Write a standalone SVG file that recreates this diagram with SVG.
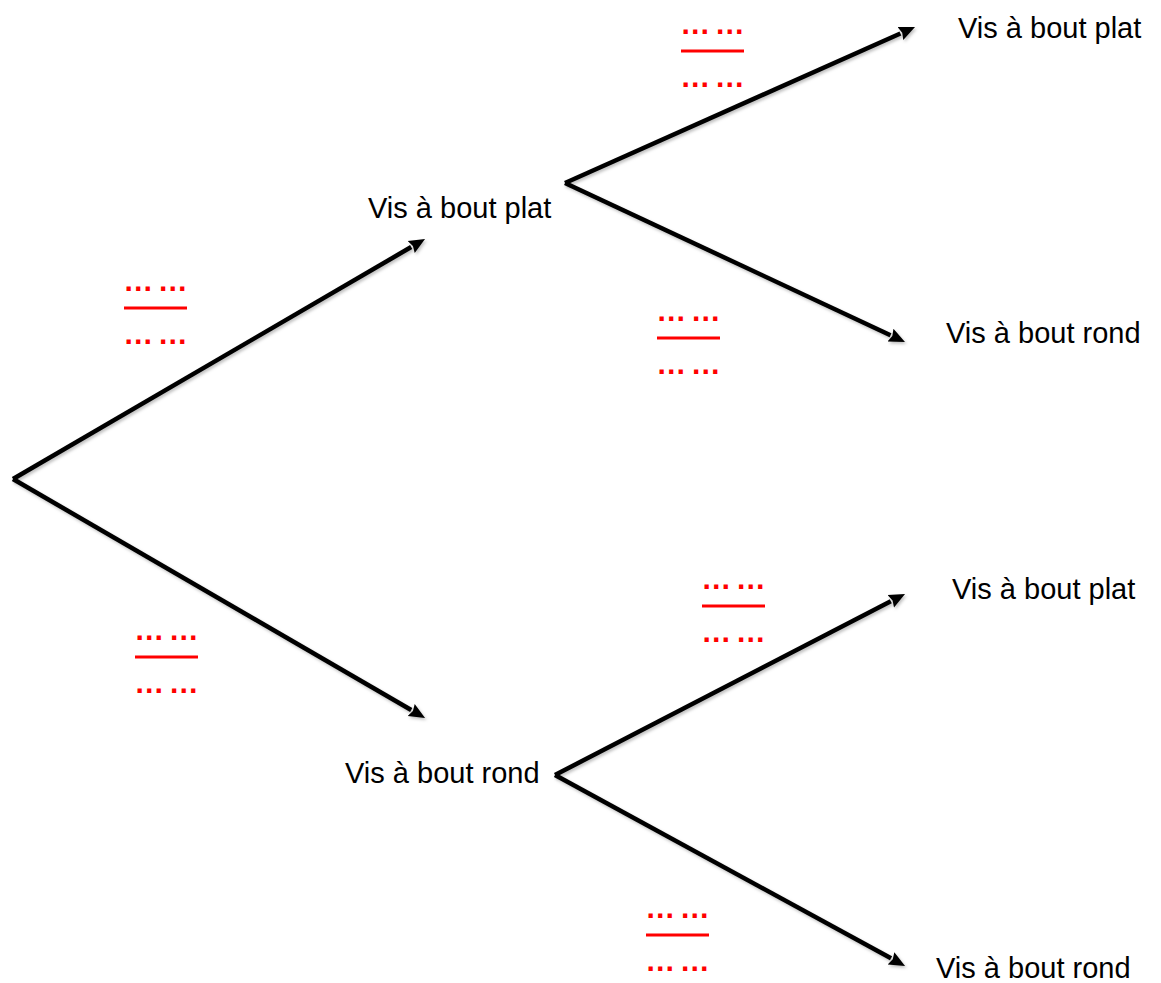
<svg xmlns="http://www.w3.org/2000/svg" width="1161" height="983" viewBox="0 0 1161 983">
<style>
.lbl{font-family:"Liberation Sans",Arial,Helvetica,sans-serif;font-size:29px;fill:#000}
.dots{font-family:"Liberation Sans",Arial,Helvetica,sans-serif;font-size:30px;font-weight:bold;fill:#ff0000;text-anchor:middle;word-spacing:-4px}
.bar{stroke:#ff0000;stroke-width:3}
.edge{stroke:#000;stroke-width:4.5;fill:none;marker-end:url(#arr);filter:url(#sh)}
</style>
<defs>
<marker id="arr" markerUnits="userSpaceOnUse" markerWidth="18" markerHeight="16" viewBox="0 -8 18 16" refX="0" refY="0" orient="auto">
<path d="M0,-7 L16,0 L0,7 L2,0 z" fill="#000"/>
</marker>
<filter id="sh" x="-10%" y="-10%" width="120%" height="120%">
<feDropShadow dx="1.5" dy="2" stdDeviation="1.5" flood-color="#000" flood-opacity="0.25"/>
</filter>
</defs>
<rect width="1161" height="983" fill="#fff"/>
<g id="connectors">
<line class="edge" x1="13" y1="479" x2="411.2" y2="247"/>
<line class="edge" x1="13" y1="479" x2="411.2" y2="710"/>
<line class="edge" x1="565" y1="183" x2="900.4" y2="33.5"/>
<line class="edge" x1="565" y1="183" x2="890.5" y2="335.2"/>
<line class="edge" x1="555" y1="775" x2="890.8" y2="601.3"/>
<line class="edge" x1="555" y1="775" x2="891" y2="958.3"/>
</g>
<g id="probabilities">
<g id="p1"><text class="dots" x="155.5" y="291">… …</text><line class="bar" x1="124" y1="308" x2="187" y2="308"/><text class="dots" x="155.5" y="344">… …</text></g>
<g id="p2"><text class="dots" x="166.5" y="640">… …</text><line class="bar" x1="135" y1="657" x2="198" y2="657"/><text class="dots" x="166.5" y="693">… …</text></g>
<g id="p3"><text class="dots" x="712.5" y="34">… …</text><line class="bar" x1="681" y1="51" x2="744" y2="51"/><text class="dots" x="712.5" y="87">… …</text></g>
<g id="p4"><text class="dots" x="688.5" y="321">… …</text><line class="bar" x1="657" y1="338" x2="720" y2="338"/><text class="dots" x="688.5" y="374">… …</text></g>
<g id="p5"><text class="dots" x="733.5" y="589">… …</text><line class="bar" x1="702" y1="606" x2="765" y2="606"/><text class="dots" x="733.5" y="642">… …</text></g>
<g id="p6"><text class="dots" x="677.5" y="918">… …</text><line class="bar" x1="646" y1="935" x2="709" y2="935"/><text class="dots" x="677.5" y="971">… …</text></g>
</g>
<g id="root"></g>
<g id="n-plat"><text class="lbl" x="368" y="218">Vis à bout plat</text></g>
<g id="n-rond"><text class="lbl" x="345" y="783">Vis à bout rond</text></g>
<g id="n-plat-plat"><text class="lbl" x="958" y="38">Vis à bout plat</text></g>
<g id="n-plat-rond"><text class="lbl" x="946" y="343">Vis à bout rond</text></g>
<g id="n-rond-plat"><text class="lbl" x="952" y="599">Vis à bout plat</text></g>
<g id="n-rond-rond"><text class="lbl" x="936" y="978">Vis à bout rond</text></g>
</svg>
